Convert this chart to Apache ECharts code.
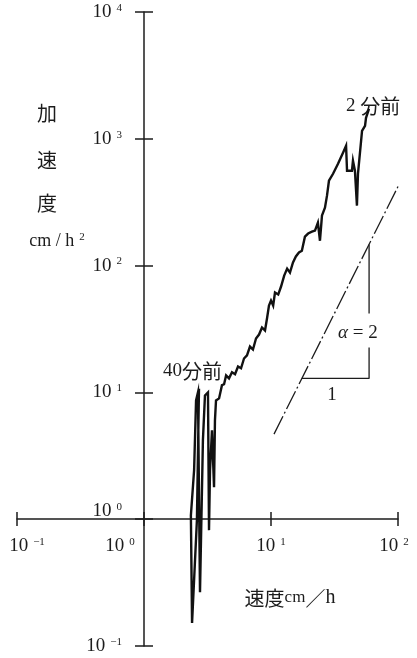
<!DOCTYPE html>
<html>
<head>
<meta charset="utf-8">
<script src="https://cdn.jsdelivr.net/npm/echarts@6/dist/echarts.min.js"></script>
<style>
  html, body { margin: 0; padding: 0; background: #fff; }
  #chart { width: 417px; height: 658px; }
</style>
</head>
<body>
<div id="chart"></div>
<script>
// Velocity (cm/h) against acceleration (cm/h^2), from 40 min before to 2 min before.
const speed = [2.71, 2.61, 2.39, 2.34, 2.48, 2.57, 2.66, 2.76, 2.91, 3.02,
  3.19, 3.25, 3.31, 3.43, 3.56, 3.62, 3.69, 3.90, 4.11, 4.27,
  4.43, 4.67, 4.93, 5.21, 5.50, 5.81, 6.13, 6.47, 6.83, 7.21,
  7.62, 8.05, 8.49, 8.97, 9.30, 9.64, 10.0, 10.4, 10.75, 11.4,
  12.0, 12.7, 13.4, 14.1, 14.9, 15.7, 16.6, 17.5, 18.5, 19.6,
  21.0, 22.2, 23.4, 24.3, 25.2, 26.6, 27.6, 28.6, 30.8, 33.7,
  36.9, 39.0, 39.7, 43.4, 44.2, 45.8, 47.5, 48.4, 52.1, 55.0,
  56.0, 58.0, 59.1];
const accel = [10.7, 0.98, 0.152, 1.07, 2.43, 8.65, 10.0, 0.266, 4.19, 9.47,
  10.0, 0.82, 2.43, 5.02, 1.79, 6.02, 8.65, 8.97, 11.4, 11.6,
  13.6, 12.9, 14.4, 13.9, 16.0, 15.5, 18.5, 19.6, 23.0, 21.8,
  26.6, 28.6, 32.5, 30.8, 38.3, 48.4, 53.0, 48.4, 61.3, 59.1,
  68.4, 83.4, 94.7, 88.1, 106, 118, 127, 131, 169, 179,
  185, 189, 218, 157, 248, 286, 356, 467, 530, 635,
  776, 881, 560, 560, 671, 560, 297, 530, 1156, 1265,
  1463, 1517, 1722];

// Reference line of slope alpha = 2 and its slope triangle
const guideSpeed = [10.56, 100];
const guideAccel = [4.69, 420];
const runSpeed = [17.5, 59.2];       // horizontal leg ("1")
const runAccel = 12.9;
const riseAccelLow = [12.9, 22.6];   // vertical leg, below the "α = 2" text
const riseAccelHigh = [41.9, 147];   // vertical leg, above it

// Decade ticks and their exponents
const xTicks = [0.1, 1, 10, 100];
const xExponents = ['−1', '0', '1', '2'];
const yTicks = [0.1, 1, 10, 100, 1000, 10000];
const yExponents = ['−1', '0', '1', '2', '3', '4'];

const INK = '#1c1c1c';
const SERIF = '"Liberation Serif", "DejaVu Serif", serif';
const CJK = '"Noto Sans CJK JP", "Noto Sans CJK SC", sans-serif';

function tickIndex(ticks, v) {
  for (let i = 0; i < ticks.length; i++) {
    if (Math.abs(v - ticks[i]) / ticks[i] < 1e-6) return i;
  }
  return -1;
}

const richBase = {
  b: { fontFamily: SERIF, fontSize: 19, color: INK },
  s: { fontFamily: SERIF, fontSize: 11, color: INK, verticalAlign: 'top', padding: [0, 0, 0, 5] }
};

// x labels: "10^0" sits left of the vertical axis, "10^-1" a little right of its tick
const xRich = Object.assign({}, richBase, {
  bl: { fontFamily: SERIF, fontSize: 19, color: INK, padding: [0, 0, 0, 20] },
  sz: { fontFamily: SERIF, fontSize: 11, color: INK, verticalAlign: 'top', padding: [0, 48, 0, 5] },
  sr: { fontFamily: SERIF, fontSize: 11, color: INK, verticalAlign: 'top', padding: [0, 8, 0, 5] }
});
function fmtX(v) {
  const i = tickIndex(xTicks, v);
  if (i < 0) return '';
  const e = xExponents[i];
  if (e === '−1') return '{bl|10}{s|' + e + '}';
  if (e === '0') return '{b|10}{sz|' + e + '}';
  if (e === '2') return '{b|10}{sr|' + e + '}';
  return '{b|10}{s|' + e + '}';
}

// y labels: "10^0" is lifted above the horizontal axis
const yRich = Object.assign({}, richBase, {
  bu: { fontFamily: SERIF, fontSize: 19, color: INK, padding: [0, 0, 16, 0] }
});
function fmtY(v) {
  const i = tickIndex(yTicks, v);
  if (i < 0) return '';
  const e = yExponents[i];
  if (e === '0') return '{bu|10}{s|' + e + '}';
  return '{b|10}{s|' + e + '}';
}

const axisInk = { color: INK, width: 1.5 };

function xAxisDef(withLabels) {
  return {
    type: 'log', logBase: 10, min: 0.1, max: 100,
    position: 'bottom', offset: -127,
    axisLine: { show: withLabels, onZero: false, lineStyle: axisInk },
    axisTick: { show: true, inside: !withLabels, length: 7, lineStyle: axisInk },
    minorTick: { show: false },
    splitLine: { show: false },
    axisLabel: withLabels
      ? { show: true, margin: 18, formatter: fmtX, rich: xRich }
      : { show: false }
  };
}
function yAxisDef(withLabels) {
  return {
    type: 'log', logBase: 10, min: 0.1, max: 10000,
    position: 'left', offset: -127,
    axisLine: { show: withLabels, onZero: false, lineStyle: axisInk },
    axisTick: { show: true, inside: !withLabels, length: 9, lineStyle: axisInk },
    minorTick: { show: false },
    splitLine: { show: false },
    axisLabel: withLabels
      ? { show: true, margin: 22, formatter: fmtY, rich: yRich }
      : { show: false }
  };
}

const curve = speed.map((s, i) => [s, accel[i]]);
const guide = guideSpeed.map((s, i) => [s, guideAccel[i]]);
const runLeg = [[runSpeed[0], runAccel], [runSpeed[1], runAccel], [runSpeed[1], riseAccelLow[1]]];
const riseLeg = [[runSpeed[1], riseAccelHigh[0]], [runSpeed[1], riseAccelHigh[1]]];

function text(x, y, str, rich, align) {
  return {
    type: 'text', x: x, y: y, silent: true,
    style: { text: str, rich: rich, align: align || 'center', verticalAlign: 'middle', fill: INK }
  };
}
const cjk = { fontFamily: CJK, fontSize: 20, color: INK };
const num = { fontFamily: SERIF, fontSize: 19, color: INK };

const chart = echarts.init(document.getElementById('chart'), null, { renderer: 'canvas' });
chart.setOption({
  animation: false,
  backgroundColor: '#fff',
  grid: { left: 17, top: 12, width: 381, height: 634, containLabel: false, outerBoundsMode: 'none' },
  xAxis: [xAxisDef(true), xAxisDef(false)],
  yAxis: [yAxisDef(true), yAxisDef(false)],
  series: [
    {
      type: 'line', data: curve, xAxisIndex: 0, yAxisIndex: 0,
      showSymbol: false, symbol: 'none',
      lineStyle: { color: '#111', width: 2.4, join: 'miter' }
    },
    {
      type: 'line', data: guide, showSymbol: false, symbol: 'none', clip: false,
      lineStyle: { color: INK, width: 1.3, type: [20, 3, 2, 3] }
    },
    {
      type: 'line', data: runLeg, showSymbol: false, symbol: 'none',
      lineStyle: { color: INK, width: 1.3 }
    },
    {
      type: 'line', data: riseLeg, showSymbol: false, symbol: 'none',
      lineStyle: { color: INK, width: 1.3 }
    }
  ],
  graphic: [
    text(47, 113, '{j|加}', { j: cjk }),
    text(47, 160, '{j|速}', { j: cjk }),
    text(47, 203, '{j|度}', { j: cjk }),
    text(57, 241, '{m|cm / h}{s|2}', {
      m: { fontFamily: SERIF, fontSize: 18, color: INK },
      s: { fontFamily: SERIF, fontSize: 11, color: INK, verticalAlign: 'top', padding: [0, 0, 0, 5] }
    }),
    text(290, 598, '{j|速度}{m|cm}{j|／}{h|h}', {
      j: cjk,
      m: { fontFamily: SERIF, fontSize: 17, color: INK },
      h: { fontFamily: SERIF, fontSize: 20, color: INK }
    }),
    text(346, 106, '{n|2 }{j|分前}', { n: num, j: cjk }, 'left'),
    text(163, 371, '{n|40}{j|分前}', { n: num, j: cjk }, 'left'),
    text(338, 333, '{g|α}{n| = 2}', {
      g: { fontFamily: SERIF, fontSize: 19, fontStyle: 'italic', color: INK },
      n: num
    }, 'left'),
    text(332, 395, '{n|1}', { n: num })
  ]
});
</script>
</body>
</html>
